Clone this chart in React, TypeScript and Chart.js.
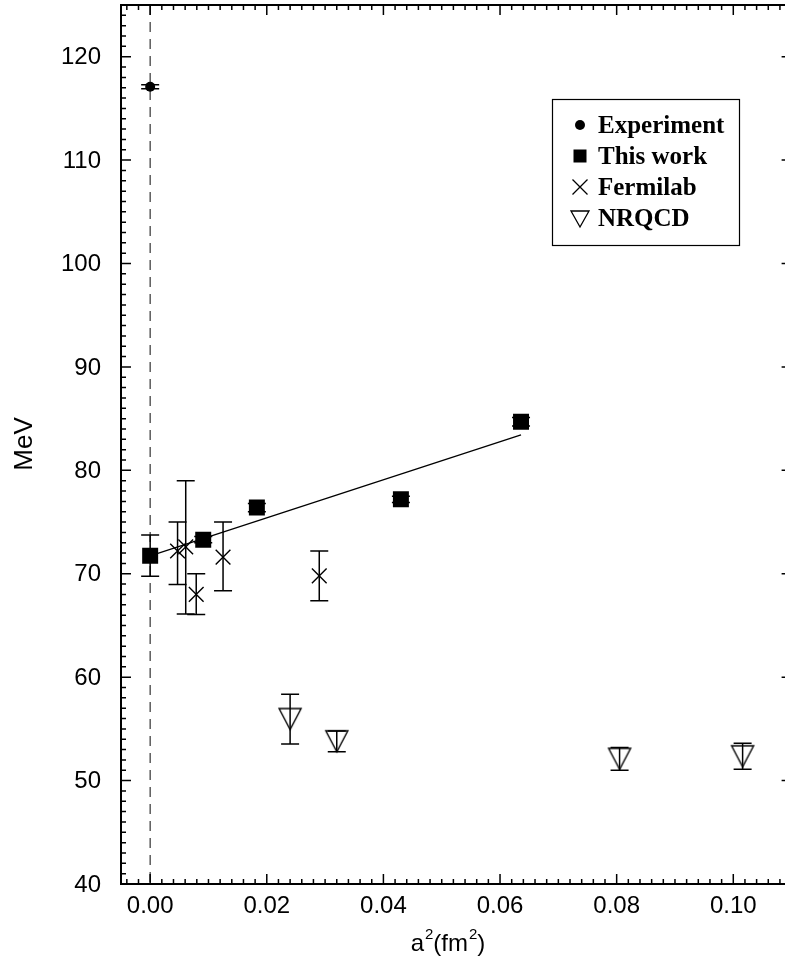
import React, { useEffect, useRef } from 'react';
import { Chart, registerables } from 'chart.js';

Chart.register(...registerables);

// ---------------- data ----------------
const experimentX = [0];
const experimentY = [117.1];
const experimentErr = [0.2];

const thisWorkX = [0, 0.0091, 0.0183, 0.043, 0.0636];
const thisWorkY = [71.75, 73.3, 76.4, 77.2, 84.7];
const thisWorkErr = [2.0, 0.3, 0.4, 0.3, 0.4];

const fermilabX = [0.0047, 0.0061, 0.0079, 0.0125, 0.029];
const fermilabY = [72.2, 72.6, 68.0, 71.6, 69.8];
const fermilabErrUp = [2.8, 6.4, 2.0, 3.4, 2.4];
const fermilabErrDown = [3.25, 6.5, 1.95, 3.25, 2.4];

const nrqcdX = [0.024, 0.032, 0.0805, 0.1016];
const nrqcdY = [55.95, 53.8, 52.1, 52.35];
const nrqcdErr = [2.4, 1.0, 1.1, 1.25];

const fitX = [0, 0.0636];
const fitY = [71.74, 83.44];

const seriesLabels = ['Experiment', 'This work', 'Fermilab', 'NRQCD'];

const xTickValues = [0, 0.02, 0.04, 0.06, 0.08, 0.1];
const xTickLabels = ['0.00', '0.02', '0.04', '0.06', '0.08', '0.10'];
const yTickValues = [40, 50, 60, 70, 80, 90, 100, 110, 120];
const yTickLabels = ['40', '50', '60', '70', '80', '90', '100', '110', '120'];
const xMinorStep = 0.002;
const yMinorStep = 1;
const xMin = -0.005;
const xMax = 0.11;
const yMin = 40;
const yMax = 125;
const yTitle = 'MeV';

const SANS = '"Liberation Sans", Arial, Helvetica, sans-serif';
const SERIF = '"Liberation Serif", "Times New Roman", serif';

function toPoints(xs: number[], ys: number[]) {
  return xs.map((x, i) => ({ x, y: ys[i] }));
}

function makeDownTriangle(w: number, h: number, lw: number) {
  const c = document.createElement('canvas');
  const pad = 2;
  c.width = w + pad * 2;
  c.height = h + pad * 2;
  const ctx = c.getContext('2d')!;
  ctx.strokeStyle = '#000';
  ctx.lineWidth = lw;
  ctx.beginPath();
  ctx.moveTo(pad, pad);
  ctx.lineTo(pad + w, pad);
  ctx.lineTo(pad + w / 2, pad + h);
  ctx.closePath();
  ctx.stroke();
  return c;
}

const framePlugin = {
  id: 'frameAndExtras',
  beforeDatasetsDraw(chart: any) {
    const { ctx, chartArea, scales } = chart;
    const xs = scales.x;
    const ys = scales.y;
    ctx.save();
    // dashed zero line
    const x0 = xs.getPixelForValue(0);
    ctx.strokeStyle = '#333';
    ctx.lineWidth = 1.2;
    ctx.setLineDash([10, 7]);
    ctx.beginPath();
    ctx.moveTo(x0, chartArea.top);
    ctx.lineTo(x0, chartArea.bottom);
    ctx.stroke();
    ctx.setLineDash([]);

    // error bars
    ctx.strokeStyle = '#000';
    ctx.lineWidth = 1.5;
    chart.data.datasets.forEach((ds: any) => {
      if (!ds.errUp) return;
      ds.data.forEach((p: any, i: number) => {
        const px = xs.getPixelForValue(p.x);
        const top = ys.getPixelForValue(p.y + ds.errUp[i]);
        const bot = ys.getPixelForValue(p.y - ds.errDown[i]);
        const cap = 9;
        ctx.beginPath();
        ctx.moveTo(px, top);
        ctx.lineTo(px, bot);
        ctx.moveTo(px - cap, top);
        ctx.lineTo(px + cap, top);
        ctx.moveTo(px - cap, bot);
        ctx.lineTo(px + cap, bot);
        ctx.stroke();
      });
    });
    ctx.restore();
  },
  afterDraw(chart: any) {
    const { ctx, chartArea, scales } = chart;
    const xs = scales.x;
    const ys = scales.y;
    const { left, right, top, bottom } = chartArea;
    ctx.save();
    ctx.strokeStyle = '#000';

    // ticks
    ctx.lineWidth = 1.5;
    const major = 10;
    const minor = 5;
    const isMajorX = (v: number) => xTickValues.some((t) => Math.abs(t - v) < 1e-9);
    const isMajorY = (v: number) => yTickValues.some((t) => Math.abs(t - v) < 1e-9);
    ctx.beginPath();
    for (let k = Math.ceil(xMin / xMinorStep); k * xMinorStep <= xMax + 1e-12; k++) {
      const v = +(k * xMinorStep).toFixed(6);
      const px = xs.getPixelForValue(v);
      const len = isMajorX(v) ? major : minor;
      ctx.moveTo(px, bottom);
      ctx.lineTo(px, bottom - len);
      ctx.moveTo(px, top);
      ctx.lineTo(px, top + len);
    }
    for (let v = yMin; v <= yMax; v += yMinorStep) {
      const py = ys.getPixelForValue(v);
      const len = isMajorY(v) ? major : minor;
      ctx.moveTo(left, py);
      ctx.lineTo(left + len, py);
      ctx.moveTo(right, py);
      ctx.lineTo(right - len, py);
    }
    ctx.stroke();

    // frame
    ctx.lineWidth = 2;
    ctx.strokeRect(left, top, right - left, bottom - top);

    // tick labels
    ctx.fillStyle = '#000';
    ctx.font = `24px ${SANS}`;
    ctx.textBaseline = 'middle';
    ctx.textAlign = 'center';
    xTickValues.forEach((v, i) => {
      ctx.fillText(xTickLabels[i], xs.getPixelForValue(v), bottom + 22);
    });
    ctx.textAlign = 'right';
    yTickValues.forEach((v, i) => {
      ctx.fillText(yTickLabels[i], left - 20, ys.getPixelForValue(v) + 1);
    });

    // x title: a^2(fm^2) with raised small 2s
    ctx.textBaseline = 'alphabetic';
    ctx.textAlign = 'left';
    const parts: [string, boolean][] = [
      ['a', false],
      ['2', true],
      ['(fm', false],
      ['2', true],
      [')', false],
    ];
    const mainFont = `24px ${SANS}`;
    const supFont = `15px ${SANS}`;
    let total = 0;
    parts.forEach(([t, sup]) => {
      ctx.font = sup ? supFont : mainFont;
      total += ctx.measureText(t).width + (sup ? 1 : 0);
    });
    let tx = 448 - total / 2;
    const baseY = 951;
    parts.forEach(([t, sup]) => {
      ctx.font = sup ? supFont : mainFont;
      ctx.fillText(t, tx + (sup ? 1 : 0), sup ? baseY - 12 : baseY);
      tx += ctx.measureText(t).width + (sup ? 1 : 0);
    });

    // y title
    ctx.save();
    ctx.translate(32, 444);
    ctx.rotate(-Math.PI / 2);
    ctx.textAlign = 'center';
    ctx.font = `26px ${SANS}`;
    ctx.fillText(yTitle, 0, 0);
    ctx.restore();

    // legend
    const bx = 552.5, by = 99.5, bw = 187, bh = 146;
    ctx.fillStyle = '#fff';
    ctx.fillRect(bx, by, bw, bh);
    ctx.lineWidth = 1.2;
    ctx.strokeStyle = '#000';
    ctx.strokeRect(bx, by, bw, bh);
    ctx.font = `bold 25px ${SERIF}`;
    ctx.textAlign = 'left';
    ctx.fillStyle = '#000';
    const legendDs = chart.data.datasets.filter((d: any) => d.legendKind);
    legendDs.forEach((d: any, i: number) => {
      const base = 133 + i * 31;
      const cy = base - 8;
      const cx = 580;
      ctx.fillStyle = '#000';
      ctx.strokeStyle = '#000';
      if (d.legendKind === 'circle') {
        ctx.beginPath();
        ctx.arc(cx, cy, 5, 0, Math.PI * 2);
        ctx.fill();
      } else if (d.legendKind === 'square') {
        ctx.fillRect(cx - 6.5, cy - 6.5, 13, 13);
      } else if (d.legendKind === 'cross') {
        ctx.lineWidth = 1.3;
        ctx.beginPath();
        ctx.moveTo(cx - 7.5, cy - 7.5);
        ctx.lineTo(cx + 7.5, cy + 7.5);
        ctx.moveTo(cx + 7.5, cy - 7.5);
        ctx.lineTo(cx - 7.5, cy + 7.5);
        ctx.stroke();
      } else if (d.legendKind === 'triangle') {
        ctx.lineWidth = 1.3;
        ctx.beginPath();
        ctx.moveTo(cx - 9, cy - 7);
        ctx.lineTo(cx + 9, cy - 7);
        ctx.lineTo(cx, cy + 9);
        ctx.closePath();
        ctx.stroke();
      }
      ctx.fillText(d.label, 598, base);
    });
    ctx.restore();
  },
};

export default function App() {
  const canvasRef = useRef<HTMLCanvasElement | null>(null);

  useEffect(() => {
    document.body.style.margin = '0';
    document.body.style.overflow = 'hidden';
    const canvas = canvasRef.current!;
    const tri = makeDownTriangle(22, 21, 1.4);

    const chart = new Chart(canvas, {
      type: 'scatter',
      data: {
        datasets: [
          {
            label: seriesLabels[0],
            legendKind: 'circle',
            data: toPoints(experimentX, experimentY),
            errUp: experimentErr,
            errDown: experimentErr,
            pointStyle: 'circle',
            pointRadius: 5,
            backgroundColor: '#000',
            borderColor: '#000',
            borderWidth: 0,
          } as any,
          {
            label: seriesLabels[1],
            legendKind: 'square',
            data: toPoints(thisWorkX, thisWorkY),
            errUp: thisWorkErr,
            errDown: thisWorkErr,
            pointStyle: 'rect',
            pointRadius: 11.3,
            backgroundColor: '#000',
            borderColor: '#000',
            borderWidth: 0,
          } as any,
          {
            label: seriesLabels[2],
            legendKind: 'cross',
            data: toPoints(fermilabX, fermilabY),
            errUp: fermilabErrUp,
            errDown: fermilabErrDown,
            pointStyle: 'crossRot',
            pointRadius: 10.4,
            backgroundColor: '#000',
            borderColor: '#000',
            borderWidth: 1.4,
          } as any,
          {
            label: seriesLabels[3],
            legendKind: 'triangle',
            data: toPoints(nrqcdX, nrqcdY),
            errUp: nrqcdErr,
            errDown: nrqcdErr,
            pointStyle: tri,
            pointRadius: 11,
            backgroundColor: '#000',
            borderColor: '#000',
          } as any,
          {
            label: 'fit',
            data: toPoints(fitX, fitY),
            showLine: true,
            pointRadius: 0,
            borderColor: '#000',
            borderWidth: 1.3,
            fill: false,
          } as any,
        ],
      },
      options: {
        animation: false,
        responsive: false,
        devicePixelRatio: 1,
        layout: { autoPadding: false, padding: { top: 5, right: 8.4, left: 0, bottom: 0 } },
        plugins: { legend: { display: false }, tooltip: { enabled: false } },
        scales: {
          x: {
            type: 'linear',
            min: xMin,
            max: xMax,
            afterBuildTicks: (s: any) => {
              s.ticks = xTickValues.map((v) => ({ value: v }));
            },
            afterFit: (s: any) => {
              s.height = 82;
              s.paddingLeft = 0;
              s.paddingRight = 0;
            },
            grid: { display: false, drawTicks: false },
            border: { display: false },
            ticks: { display: false },
          },
          y: {
            type: 'linear',
            min: yMin,
            max: yMax,
            afterBuildTicks: (s: any) => {
              s.ticks = yTickValues.map((v) => ({ value: v }));
            },
            afterFit: (s: any) => {
              s.width = 121;
              s.paddingTop = 0;
              s.paddingBottom = 0;
            },
            grid: { display: false, drawTicks: false },
            border: { display: false },
            ticks: { display: false },
          },
        },
      },
      plugins: [framePlugin],
    } as any);

    return () => chart.destroy();
  }, []);

  return (
    <div style={{ width: 785, height: 966, overflow: 'hidden', position: 'relative', background: '#fff' }}>
      <canvas ref={canvasRef} width={800} height={966} style={{ display: 'block', width: 800, height: 966 }} />
    </div>
  );
}
